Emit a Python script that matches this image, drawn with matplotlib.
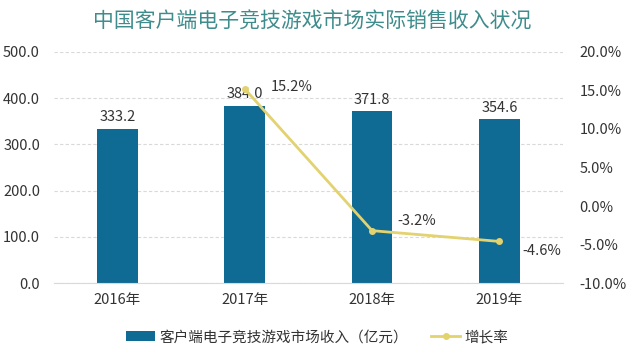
import matplotlib
matplotlib.use("Agg")
import matplotlib.pyplot as plt
from matplotlib.ticker import FuncFormatter

plt.rcParams['font.family'] = ['Noto Sans CJK SC', 'DejaVu Sans']

years = ["2016年", "2017年", "2018年", "2019年"]
revenue = [333.2, 384.0, 371.8, 354.6]
growth_years = ["2017年", "2018年", "2019年"]
growth = [15.2, -3.2, -4.6]

title = "中国客户端电子竞技游戏市场实际销售收入状况"
bar_label = "客户端电子竞技游戏市场收入（亿元）"
line_label = "增长率"

bar_color = "#0F6A94"
line_color = "#E3D270"
text_color = "#333333"

fig = plt.figure(figsize=(6.34, 3.56), dpi=100)
ax = fig.add_axes([0.085, 0.205, 0.803, 0.649])
ax2 = ax.twinx()

x = list(range(len(years)))
bars = ax.bar(x, revenue, width=0.32, color=bar_color, label=bar_label, zorder=2)
ax.set_ylim(0, 500)
ax.set_yticks([0, 100, 200, 300, 400, 500])
ax.yaxis.set_major_formatter(FuncFormatter(lambda v, p: f"{v:.1f}"))
ax.set_xlim(-0.5, 3.5)
ax.set_xticks(x)
ax.set_xticklabels(years)
ax.grid(axis='y', color='#D9D9D9', linestyle=(0, (3, 2)), linewidth=0.8, zorder=0)
ax.set_axisbelow(True)

for xi, v in zip(x, revenue):
    ax.text(xi, v + 10, f"{v:.1f}", ha='center', va='bottom', fontsize=10.5, color=text_color)

gx = [years.index(g) for g in growth_years]
ax2.plot(gx, growth, color=line_color, linewidth=2, marker='o', markersize=4,
         label=line_label, zorder=3)
ax2.set_ylim(-10, 20)
ax2.set_yticks([-10, -5, 0, 5, 10, 15, 20])
ax2.yaxis.set_major_formatter(FuncFormatter(lambda v, p: f"{v:.1f}%"))

offsets = [(0.2, 0.2, 'left'), (0.2, 1.3, 'left'), (0.18, -1.2, 'left')]
for xi, v, (dx, dy, ha) in zip(gx, growth, offsets):
    ax2.text(xi + dx, v + dy, f"{v:.1f}%", ha=ha, va='center', fontsize=10.5, color=text_color)

for a in (ax, ax2):
    for s in a.spines.values():
        s.set_visible(False)
    a.tick_params(length=0, labelsize=10.5, colors=text_color)
ax.spines['bottom'].set_visible(True)
ax.spines['bottom'].set_color('#D9D9D9')
ax.tick_params(axis='y', pad=10)
ax.tick_params(axis='x', pad=7)
ax2.tick_params(axis='y', pad=12)

fig.text(0.492, 0.94, title, ha='center', va='center', fontsize=15, color='#3F8C8C')

h1, l1 = ax.get_legend_handles_labels()
h2, l2 = ax2.get_legend_handles_labels()
fig.legend(h1 + h2, l1 + l2, loc='center', bbox_to_anchor=(0.5, 0.053), ncol=2,
           frameon=False, fontsize=10.5, handlelength=2.0, handleheight=0.7,
           columnspacing=1.6, handletextpad=0.3, labelcolor=text_color)

fig.savefig("out.png", dpi=100)
